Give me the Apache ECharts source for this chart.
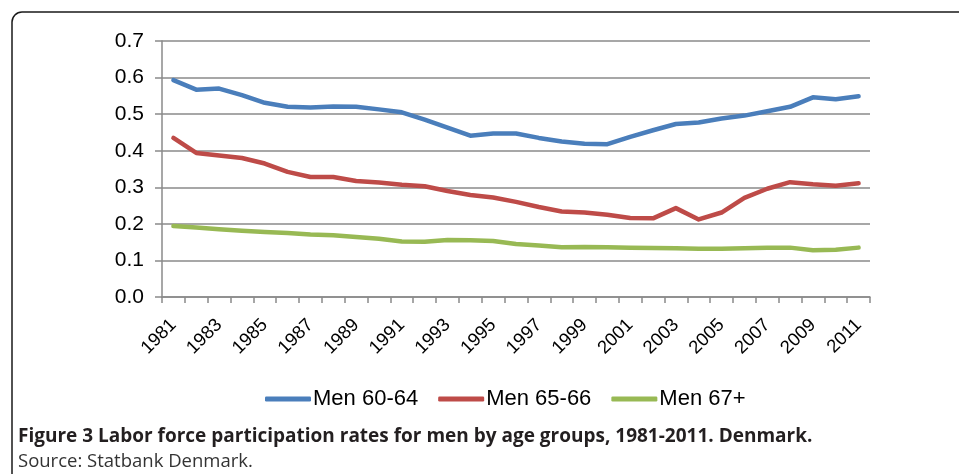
<!DOCTYPE html>
<html>
<head>
<meta charset="utf-8">
<script src="https://cdn.jsdelivr.net/npm/echarts@6/dist/echarts.min.js"></script>
<style>
html,body{margin:0;padding:0;background:#fff;}
#chart{width:959px;height:474px;}
</style>
</head>
<body>
<div id="chart"></div>
<script>
const years = ['1981','1982','1983','1984','1985','1986','1987','1988','1989','1990','1991','1992','1993','1994','1995','1996','1997','1998','1999','2000','2001','2002','2003','2004','2005','2006','2007','2008','2009','2010','2011'];
const men6064 = [0.593,0.567,0.570,0.552,0.531,0.520,0.518,0.521,0.520,0.513,0.505,0.485,0.463,0.441,0.447,0.447,0.435,0.425,0.419,0.418,0.438,0.456,0.473,0.477,0.488,0.496,0.508,0.520,0.546,0.541,0.549];
const men6566 = [0.435,0.394,0.387,0.380,0.365,0.342,0.328,0.328,0.317,0.313,0.307,0.303,0.290,0.279,0.272,0.260,0.246,0.234,0.231,0.225,0.216,0.215,0.243,0.212,0.231,0.271,0.296,0.314,0.308,0.304,0.311];
const men67p = [0.194,0.190,0.185,0.181,0.178,0.175,0.171,0.169,0.164,0.159,0.152,0.151,0.156,0.155,0.153,0.145,0.141,0.136,0.137,0.136,0.135,0.134,0.133,0.132,0.132,0.133,0.135,0.135,0.128,0.129,0.135];
const seriesNames = ['Men 60-64','Men 65-66','Men 67+'];
const colors = ['#4A7EBB','#BE4B48','#98B954'];
const captionText = 'Figure 3 Labor force participation rates for men by age groups, 1981-2011. Denmark.';
const sourceText = 'Source: Statbank Denmark.';

const chart = echarts.init(document.getElementById('chart'));
const lineSeries = [men6064, men6566, men67p].map((d, i) => ({
  name: seriesNames[i],
  type: 'line',
  data: d,
  symbol: 'none',
  smooth: false,
  lineStyle: { width: 4.5, color: colors[i], cap: 'round', join: 'round' },
  itemStyle: { color: colors[i] },
  animation: false
}));

chart.setOption({
  animation: false,
  color: colors,
  grid: { left: 162, right: 89, top: 41, bottom: 177, containLabel: false },
  legend: {
    left: 260, top: 383,
    itemWidth: 46, itemHeight: 5, itemGap: 20,
    icon: 'roundRect',
    textStyle: { fontFamily: 'Liberation Sans', fontSize: 22, color: '#000', padding: [0,0,0,-3] },
    data: seriesNames
  },
  xAxis: {
    type: 'category',
    data: years,
    boundaryGap: true,
    axisLine: { lineStyle: { color: '#8a8a8a', width: 1.5 } },
    axisTick: { show: true, interval: 0, length: 6, lineStyle: { color: '#8a8a8a', width: 1.5 } },
    axisLabel: { interval: 1, rotate: 45, margin: 25, fontFamily: 'Liberation Sans', fontSize: 18.5, color: '#000' },
    splitLine: { show: false }
  },
  yAxis: {
    type: 'value',
    min: 0, max: 0.7, interval: 0.1,
    axisLine: { show: true, lineStyle: { color: '#8a8a8a', width: 1.5 } },
    axisTick: { show: true, length: 7, lineStyle: { color: '#8a8a8a', width: 1.5 } },
    axisLabel: { margin: 18, fontFamily: 'Liberation Sans', fontSize: 21, color: '#000', formatter: v => v.toFixed(1) },
    splitLine: { show: true, lineStyle: { color: '#8a8a8a', width: 1.5 } }
  },
  graphic: [
    { type: 'rect', shape: { x: 12, y: 12, width: 1000, height: 1000, r: 10 }, style: { fill: 'none', stroke: '#1a1a1a', lineWidth: 1.5 }, silent: true, z: -1 },
    { type: 'text', left: 18, top: 427, style: { text: captionText, fontFamily: 'Open Sans', fontWeight: 'bold', fontSize: 19, fill: '#231f20' } },
    { type: 'text', left: 18, top: 452, style: { text: sourceText, fontFamily: 'Open Sans', fontSize: 18.5, fill: '#333' } }
  ],
  series: lineSeries
});
</script>
</body>
</html>
